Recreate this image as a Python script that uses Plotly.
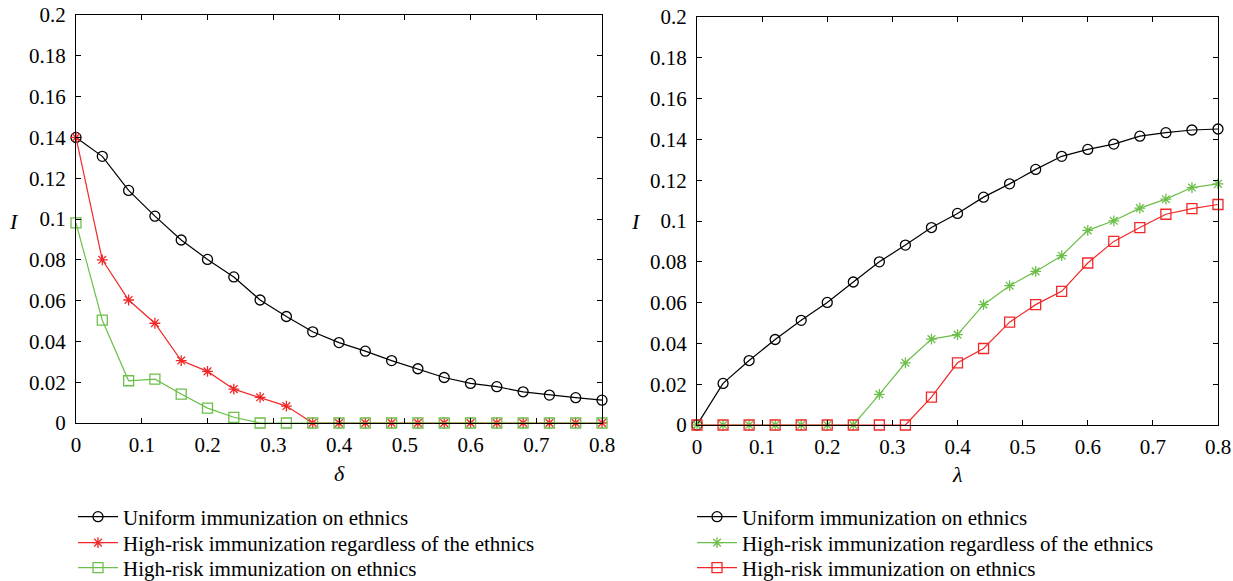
import plotly.graph_objects as go

x_vals = [round(0.04 * i, 2) for i in range(21)]

# Left panel (delta)
left_uniform = [0.140, 0.1307, 0.114, 0.1014, 0.0897, 0.0802, 0.0716, 0.0603, 0.0522, 0.0447,
                0.0394, 0.0352, 0.0306, 0.0266, 0.0223, 0.0194, 0.0178, 0.0153, 0.0137, 0.0124, 0.0112]
left_highrisk_regardless = [0.140, 0.080, 0.0603, 0.0489, 0.0306, 0.0253, 0.0166, 0.0126, 0.0083,
                            0, 0, 0, 0, 0, 0, 0, 0, 0, 0, 0, 0]
left_highrisk_ethnics = [0.0981, 0.0504, 0.0207, 0.0215, 0.0142, 0.0073, 0.0028, 0, 0,
                         0, 0, 0, 0, 0, 0, 0, 0, 0, 0, 0, 0]

# Right panel (lambda)
right_uniform = [0.0, 0.0204, 0.0316, 0.0419, 0.0513, 0.0601, 0.0701, 0.0800, 0.0882, 0.0968,
                 0.1037, 0.1117, 0.1182, 0.1253, 0.1317, 0.1351, 0.1377, 0.1416, 0.1433, 0.1446, 0.1451]
right_highrisk_regardless = [0, 0, 0, 0, 0, 0, 0, 0.0150, 0.0305, 0.0421,
                             0.0443, 0.0590, 0.0683, 0.0753, 0.0830, 0.0954, 0.1001, 0.1063, 0.1107, 0.1164, 0.1182]
right_highrisk_ethnics = [0, 0, 0, 0, 0, 0, 0, 0, 0, 0.0137,
                          0.0305, 0.0375, 0.0504, 0.0590, 0.0655, 0.0794, 0.0900, 0.0968, 0.1033, 0.1061, 0.1081]

names = ["Uniform immunization on ethnics",
         "High-risk immunization regardless of the ethnics",
         "High-risk immunization on ethnics"]

y_ticks = [0, 0.02, 0.04, 0.06, 0.08, 0.1, 0.12, 0.14, 0.16, 0.18, 0.2]
y_tick_text = ["0", "0.02", "0.04", "0.06", "0.08", "0.1", "0.12", "0.14", "0.16", "0.18", "0.2"]
x_ticks = [0, 0.1, 0.2, 0.3, 0.4, 0.5, 0.6, 0.7, 0.8]
x_tick_text = ["0", "0.1", "0.2", "0.3", "0.4", "0.5", "0.6", "0.7", "0.8"]

BLACK = "#000000"
RED = "#f02828"
GREEN = "#6cbf4a"
FONT = "'Liberation Serif', 'DejaVu Serif', 'Times New Roman', serif"
FS = 21
W, H = 1233, 581

fig = go.Figure()

def add(xv, yv, name, color, symbol, size, xa, ya, legend):
    fig.add_trace(go.Scatter(
        x=xv, y=yv, name=name, mode="lines+markers",
        line=dict(color=color, width=1.2),
        marker=dict(symbol=symbol, size=size, color=color,
                    line=dict(color=color, width=1.3)),
        xaxis=xa, yaxis=ya, legend=legend, cliponaxis=False,
    ))

add(x_vals, left_uniform, names[0], BLACK, "circle-open", 10, "x", "y", "legend")
add(x_vals, left_highrisk_regardless, names[1], RED, "asterisk-open", 9, "x", "y", "legend2")
add(x_vals, left_highrisk_ethnics, names[2], GREEN, "square-open", 10, "x", "y", "legend3")

add(x_vals, right_uniform, names[0], BLACK, "circle-open", 10, "x2", "y2", "legend4")
add(x_vals, right_highrisk_regardless, names[1], GREEN, "asterisk-open", 9, "x2", "y2", "legend5")
add(x_vals, right_highrisk_ethnics, names[2], RED, "square-open", 10, "x2", "y2", "legend6")

axis_common = dict(showline=True, linecolor="black", linewidth=1.2, mirror="ticks",
                   ticks="inside", ticklen=5, tickwidth=1, tickcolor="black",
                   showgrid=False, zeroline=False, automargin=False,
                   tickfont=dict(family=FONT, size=FS, color="black"))

def leg(xpx, ypx):
    return dict(x=xpx / W, y=1 - ypx / H, xanchor="left", yanchor="middle",
                bgcolor="rgba(0,0,0,0)", borderwidth=0,
                font=dict(family=FONT, size=FS, color="black"),
                tracegroupgap=0, itemwidth=40)

fig.update_layout(
    width=W, height=H,
    margin=dict(l=0, r=0, t=0, b=0, autoexpand=False),
    paper_bgcolor="white", plot_bgcolor="white",
    font=dict(family=FONT, size=FS, color="black"),
    xaxis=dict(domain=[76 / W, 602 / W], range=[0, 0.8], tickvals=x_ticks, ticktext=x_tick_text,
               anchor="y", ticklabelstandoff=3, **axis_common),
    yaxis=dict(domain=[1 - 423 / H, 1 - 15 / H], range=[0, 0.2], tickvals=y_ticks, ticktext=y_tick_text,
               anchor="x", ticklabelstandoff=5, **axis_common),
    xaxis2=dict(domain=[697 / W, 1218 / W], range=[0, 0.8], tickvals=x_ticks, ticktext=x_tick_text,
                anchor="y2", ticklabelstandoff=3, **axis_common),
    yaxis2=dict(domain=[1 - 425 / H, 1 - 17 / H], range=[0, 0.2], tickvals=y_ticks, ticktext=y_tick_text,
                anchor="x2", ticklabelstandoff=5, **axis_common),
    legend=leg(73, 517),
    legend2=leg(73, 543),
    legend3=leg(73, 568),
    legend4=leg(692, 517),
    legend5=leg(692, 543),
    legend6=leg(692, 568),
    showlegend=True,
)

fig.add_annotation(text="<i>δ</i>", x=0.4, xref="x", y=1 - 473 / H, yref="paper",
                   xanchor="center", yanchor="middle",
                   showarrow=False, font=dict(family=FONT, size=22, color="black"))
fig.add_annotation(text="<i>λ</i>", x=0.4, xref="x2", y=1 - 474 / H, yref="paper",
                   xanchor="center", yanchor="middle",
                   showarrow=False, font=dict(family=FONT, size=22, color="black"))
fig.add_annotation(text="<i>I</i>", x=14 / W, xref="paper", y=1 - 222 / H, yref="paper",
                   xanchor="center", yanchor="middle",
                   showarrow=False, font=dict(family=FONT, size=22, color="black"))
fig.add_annotation(text="<i>I</i>", x=636 / W, xref="paper", y=1 - 222 / H, yref="paper",
                   xanchor="center", yanchor="middle",
                   showarrow=False, font=dict(family=FONT, size=22, color="black"))

fig.write_html("out.html")
